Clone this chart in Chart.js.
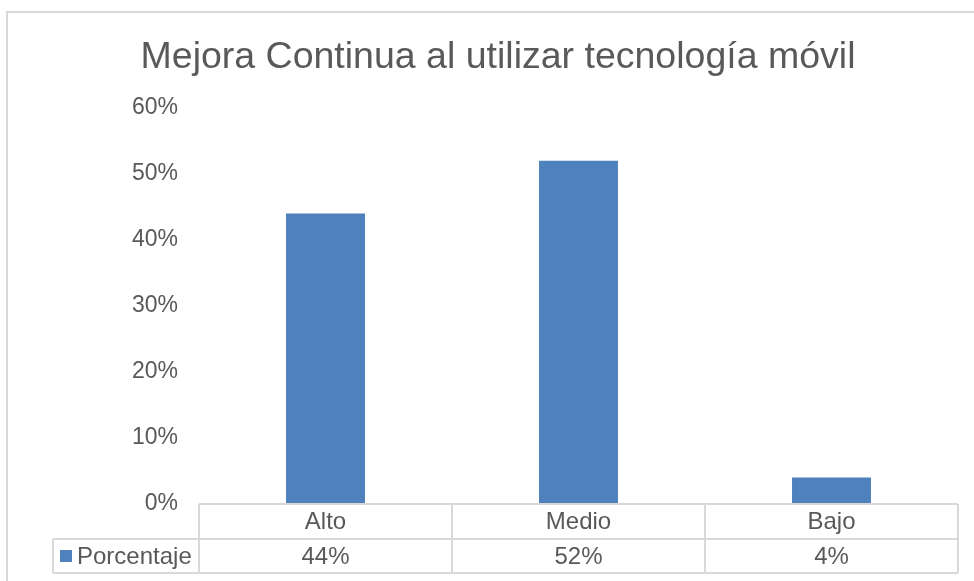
<!DOCTYPE html>
<html>
<head>
<meta charset="utf-8">
<script src="https://cdn.jsdelivr.net/npm/chart.js@4/dist/chart.umd.min.js"></script>
<style>
  html, body { margin: 0; padding: 0; background: #fff; }
  #wrap { width: 974px; height: 581px; }
</style>
</head>
<body>
<div id="wrap"><canvas id="chart" width="974" height="581"></canvas></div>
<script>
// chart data
const categories = ['Alto', 'Medio', 'Bajo'];
const seriesName = 'Porcentaje';
const values = [44, 52, 4];
const yTicks = [0, 10, 20, 30, 40, 50, 60];

const TEXT = '#595959';
const BAR = '#4f81bd';
const LINE = '#d9d9d9';
const FONT = '"Liberation Sans", Arial, sans-serif';

// outer frame (only top and left edges are visible in the crop)
const framePlugin = {
  id: 'frame',
  beforeDraw(chart) {
    const c = chart.ctx;
    c.save();
    c.fillStyle = '#fff';
    c.fillRect(0, 0, chart.width, chart.height);
    c.strokeStyle = LINE;
    c.lineWidth = 2;
    c.beginPath();
    c.moveTo(7, chart.height + 5);
    c.lineTo(7, 12);
    c.lineTo(chart.width + 5, 12);
    c.stroke();
    c.restore();
  }
};

// Excel-style data table under the plot
const tablePlugin = {
  id: 'dataTable',
  afterDraw(chart) {
    const c = chart.ctx;
    const x = chart.scales.x;
    const area = chart.chartArea;
    const colW = (area.right - area.left) / categories.length;
    const top = area.bottom;
    const mid = top + 35;
    const bot = mid + 34;
    const legLeft = 53;

    c.save();
    c.strokeStyle = LINE;
    c.lineWidth = 2;
    c.beginPath();
    c.moveTo(area.left, top); c.lineTo(area.right, top);
    c.moveTo(legLeft, mid); c.lineTo(area.right, mid);
    c.moveTo(legLeft, bot); c.lineTo(area.right, bot);
    c.moveTo(legLeft, mid); c.lineTo(legLeft, bot);
    for (let i = 0; i <= categories.length; i++) {
      const px = area.left + i * colW;
      c.moveTo(px, top); c.lineTo(px, bot);
    }
    c.stroke();

    c.fillStyle = TEXT;
    c.font = '24px ' + FONT;
    c.textAlign = 'center';
    c.textBaseline = 'middle';
    categories.forEach((cat, i) => {
      const cx = x.getPixelForValue(i);
      c.fillText(cat, cx, (top + mid) / 2 + 1);
      c.fillText(values[i] + '%', cx, (mid + bot) / 2 + 1);
    });

    c.fillStyle = BAR;
    c.fillRect(60, (mid + bot) / 2 - 6, 12, 12);
    c.fillStyle = TEXT;
    c.textAlign = 'left';
    c.fillText(seriesName, 77, (mid + bot) / 2 + 1);
    c.restore();
  }
};

new Chart(document.getElementById('chart'), {
  type: 'bar',
  data: {
    labels: categories,
    datasets: [{
      label: seriesName,
      data: values,
      backgroundColor: BAR,
      categoryPercentage: 1,
      barPercentage: 0.312
    }]
  },
  options: {
    responsive: false,
    animation: false,
    layout: { padding: { top: 12, left: 38, right: 16, bottom: 77 } },
    plugins: {
      legend: { display: false },
      tooltip: { enabled: false },
      title: {
        display: true,
        text: 'Mejora Continua al utilizar tecnología móvil',
        color: TEXT,
        font: { family: FONT, size: 37.5, weight: 'normal', lineHeight: 1.2 },
        padding: { top: 23, bottom: 28 }
      }
    },
    scales: {
      x: { display: false },
      y: {
        min: 0,
        max: 60,
        afterFit(scale) { scale.width = 161; },
        afterBuildTicks(scale) { scale.ticks = yTicks.map(v => ({ value: v })); },
        grid: { display: false, drawTicks: false },
        border: { display: false },
        ticks: {
          color: TEXT,
          padding: 21,
          font: { family: FONT, size: 23 },
          callback: v => v + '%'
        }
      }
    }
  },
  plugins: [framePlugin, tablePlugin]
});
</script>
</body>
</html>
